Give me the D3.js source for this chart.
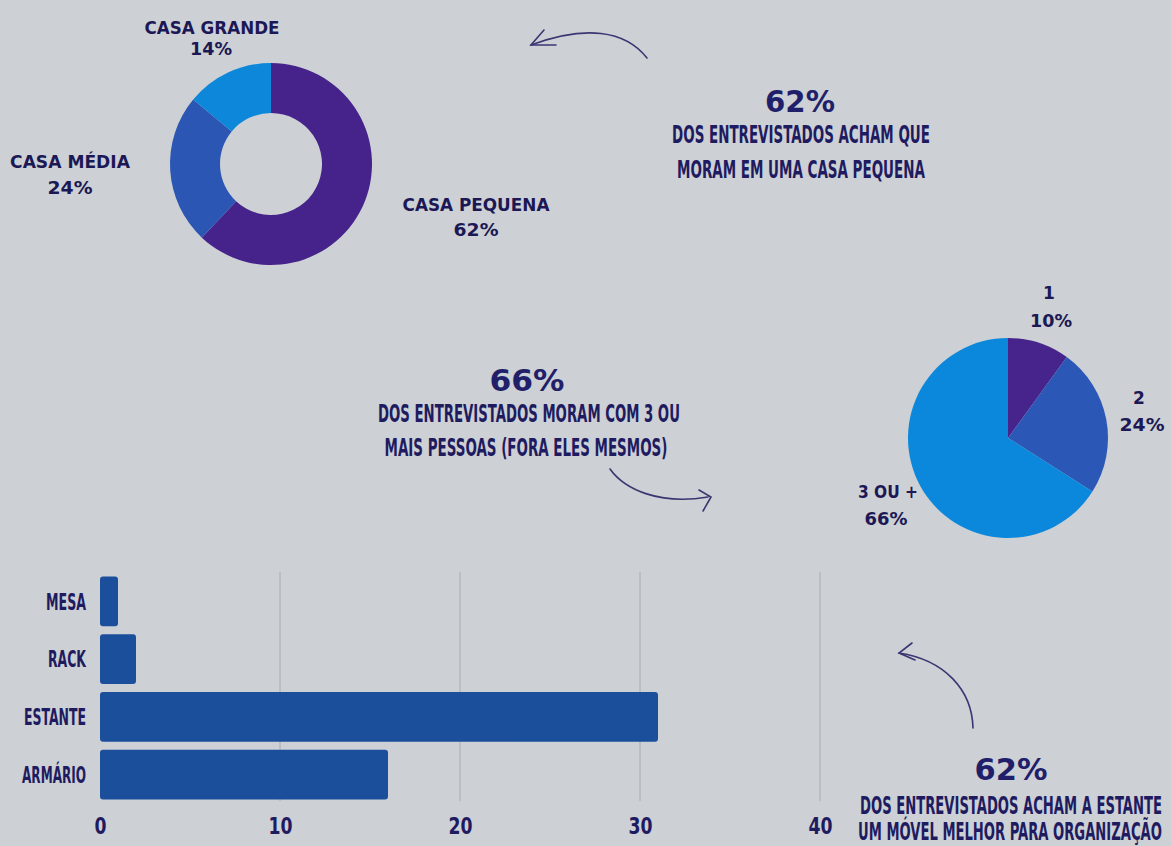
<!DOCTYPE html>
<html>
<head>
<meta charset="utf-8">
<script src="https://cdn.jsdelivr.net/npm/d3@7"></script>
<style>
  html, body { margin: 0; padding: 0; background: #cdd0d4; }
  svg { display: block; }
  .block { font-family: "DejaVu Sans", sans-serif; font-weight: bold; fill: #1b1855; }
  .cond { font-family: "DejaVu Sans Condensed", "Liberation Sans Narrow", sans-serif; font-weight: bold; font-stretch: condensed; fill: #1e1b60; }
</style>
</head>
<body>
<div id="chart"></div>
<script>
const width = 1171;
const height = 846;

// donut: house size
const houseLabels = ["CASA PEQUENA", "CASA MÉDIA", "CASA GRANDE"];
const houseValues = [62, 24, 14];
const houseColors = ["#46238b", "#2b56b3", "#0d87da"];

// pie: people living together
const peopleLabels = ["1", "2", "3 OU +"];
const peopleValues = [10, 24, 66];
const peopleColors = ["#47248c", "#2b57b6", "#0b88dc"];

// bars: best furniture
const furniture = ["MESA", "RACK", "ESTANTE", "ARMÁRIO"];
const furnitureValues = [1, 2, 31, 16];
const xTicks = [0, 10, 20, 30, 40];

let svg = d3.select("#chart").append("svg")
    .attr("width", width)
    .attr("height", height);

svg.append("rect").attr("width", width).attr("height", height).attr("fill", "#cdd0d4");

// squeeze a text horizontally to width w, anchored at (x,y)
function squeeze(t, x, y, w, anchor){
    let natural = t.node().getComputedTextLength();
    let sx = w ? w / natural : 1;
    t.attr("x", 0).attr("y", 0)
        .attr("text-anchor", anchor || "middle")
        .attr("transform", "translate(" + x + "," + y + ") scale(" + sx + ",1)");
    return t;
}

function label(x, y, txt, cls, size, w){
    let t = svg.append("text")
        .attr("class", cls)
        .attr("font-size", size)
        .text(txt);
    return squeeze(t, x, y, w);
}

// ---- donut
let pie = d3.pie().sort(null).value(function(d){ return d; });
let donutArc = d3.arc().innerRadius(51).outerRadius(101);
let donut = svg.append("g").attr("transform", "translate(271,164)");
donut.selectAll("path")
    .data(pie(houseValues))
    .enter().append("path")
    .attr("d", donutArc)
    .attr("fill", function(d, i){ return houseColors[i]; });

label(476, 211, houseLabels[0], "block", 17, 147);
label(476, 236, houseValues[0] + "%", "block", 17, 45);
label(70, 168, houseLabels[1], "block", 17, 120);
label(70, 194, houseValues[1] + "%", "block", 17, 45);
label(212, 34, houseLabels[2], "block", 17, 135);
label(211, 55, houseValues[2] + "%", "block", 17, 42);

// ---- pie
let pieArc = d3.arc().innerRadius(0).outerRadius(100);
let pieG = svg.append("g").attr("transform", "translate(1008,438)");
pieG.selectAll("path")
    .data(pie(peopleValues))
    .enter().append("path")
    .attr("d", pieArc)
    .attr("fill", function(d, i){ return peopleColors[i]; });

label(1049, 299, peopleLabels[0], "block", 17);
label(1051, 327, peopleValues[0] + "%", "block", 17, 42);
label(1139, 404, peopleLabels[1], "block", 17);
label(1142, 431, peopleValues[1] + "%", "block", 17, 45);
label(888, 498, peopleLabels[2], "block", 17, 60);
label(886, 525, peopleValues[2] + "%", "block", 17, 43);

// ---- annotations
label(800, 112, "62%", "block", 30, 70).style("fill", "#211f6a");
label(801, 143, "DOS ENTREVISTADOS ACHAM QUE", "cond", 25, 258);
label(801, 178, "MORAM EM UMA CASA PEQUENA", "cond", 25, 248);

label(527, 391, "66%", "block", 30, 75).style("fill", "#211f6a");
label(529, 422, "DOS ENTREVISTADOS MORAM COM 3 OU", "cond", 25, 302);
label(526, 456, "MAIS PESSOAS (FORA ELES MESMOS)", "cond", 25, 283);

label(1011, 780, "62%", "block", 30, 73).style("fill", "#211f6a");
label(1011, 814, "DOS ENTREVISTADOS ACHAM A ESTANTE", "cond", 24, 302);
label(1010, 840, "UM MÓVEL MELHOR PARA ORGANIZAÇÃO", "cond", 24, 304);

// ---- hand drawn arrows
let arrows = svg.append("g")
    .attr("fill", "none")
    .attr("stroke", "#3a3672")
    .attr("stroke-width", 1.6)
    .attr("stroke-linecap", "round");
arrows.append("path").attr("d", "M647,58 C625,30 585,25 531,45");
arrows.append("path").attr("d", "M544,30 L531,45 L556,45");
arrows.append("path").attr("d", "M610,469 C625,490 660,505 708,497");
arrows.append("path").attr("d", "M699,490 L711,497 L703,511");
arrows.append("path").attr("d", "M973,728 C972,690 945,660 899,653");
arrows.append("path").attr("d", "M912,643 L899,653 L915,660");

// ---- bar chart
let x = d3.scaleLinear().domain([0, 40]).range([100, 820]);
let y = d3.scaleBand().domain(furniture).range([573, 803]).paddingInner(0.14).paddingOuter(0.06);

svg.append("g").selectAll("line")
    .data(xTicks.slice(1))
    .enter().append("line")
    .attr("x1", function(d){ return x(d); })
    .attr("x2", function(d){ return x(d); })
    .attr("y1", 572).attr("y2", 801)
    .attr("stroke", "#a8acb3")
    .attr("stroke-width", 1);

svg.append("g").selectAll("rect")
    .data(furnitureValues)
    .enter().append("rect")
    .attr("x", x(0))
    .attr("y", function(d, i){ return y(furniture[i]); })
    .attr("width", function(d){ return x(d) - x(0); })
    .attr("height", y.bandwidth())
    .attr("rx", 3)
    .attr("fill", "#1b4f9b");

let xAxis = svg.append("g")
    .attr("transform", "translate(0,812)")
    .call(d3.axisBottom(x).tickValues(xTicks).tickSize(0).tickPadding(0));
xAxis.select(".domain").remove();
xAxis.selectAll("text")
    .attr("class", "cond")
    .attr("dy", "0")
    .attr("font-size", 23)
    .each(function(d){
        squeeze(d3.select(this), 0, 22, String(d).length * 12);
    });

let yAxis = svg.append("g")
    .attr("transform", "translate(86,0)")
    .call(d3.axisLeft(y).tickSize(0).tickPadding(0));
yAxis.select(".domain").remove();
yAxis.selectAll("text")
    .attr("class", "cond")
    .attr("dy", "0.36em")
    .attr("font-size", 23)
    .each(function(d){
        let w = {"MESA": 40, "RACK": 38, "ESTANTE": 62, "ARMÁRIO": 64}[d];
        squeeze(d3.select(this), 0, 0, w, "end");
    });
</script>
</body>
</html>
